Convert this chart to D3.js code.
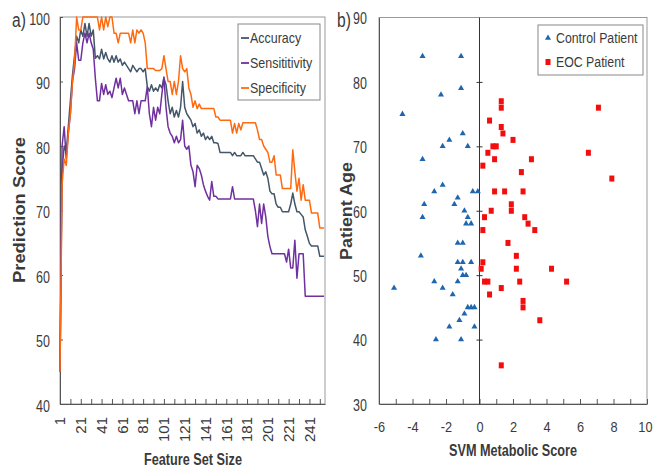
<!DOCTYPE html>
<html>
<head>
<meta charset="utf-8">
<script src="https://cdn.jsdelivr.net/npm/d3@7"></script>
<style>
body { margin: 0; background: #fff; }
text { font-family: "Liberation Sans", Arial, sans-serif; fill: #3a3a3a; }
</style>
</head>
<body>
<div id="chart"></div>
<script>
// ---- panel a) data: feature set size vs prediction score (every 2nd feature size)
var featureSizes = d3.range(1, 256, 2);
var accuracy = [
  45, 76, 80, 79, 83, 87, 91, 94, 97, 96,
  98, 97, 99, 97, 99, 97, 98, 93.6, 94, 93.5,
  95, 93.5, 94.5, 93.5, 93, 94, 93, 94, 93, 93.5,
  92.5, 93, 92.5, 92, 91.5, 92.5, 92, 91.5, 92, 92,
  91.5, 92, 89.2, 88.5, 89.5, 88.5, 89, 88.5, 89.5, 89,
  90.5, 89.5, 87, 85, 86, 84.5, 85.5, 84.5, 86, 90,
  86, 85, 84.5, 84, 83, 83.5, 82, 82.5, 81.5, 82,
  81, 81.5, 81, 81.5, 80.5, 80.5, 80.4, 79, 79, 79,
  79, 79, 79, 78.5, 79, 78.5, 78.5, 78.5, 79, 78.5,
  78.5, 78.5, 78.5, 78.5, 78, 77.5, 77.5, 76.5, 75.5, 76,
  75, 73, 72.6, 72.6, 71, 70.5, 70.5, 69.8, 69.8, 69.8,
  69.8, 71, 72.7, 71, 69.8, 69.8, 69.4, 69, 67, 66,
  64.9, 64.5, 64.5, 64.5, 64.5, 62.9, 62.9, 62.9
];
var sensitivity = [
  45, 80, 83, 78, 82, 85, 90, 92, 96, 93.3,
  93.3, 96, 97.5, 96, 97.5, 96, 95, 90.5, 87, 87,
  89.7, 88, 89.5, 88, 88.5, 87.5, 89, 90.5, 89, 90.5,
  88, 89, 88, 87, 87, 87, 85, 87, 85, 87,
  87, 87, 89.2, 85, 83, 86, 84, 86, 85, 88,
  90.7, 86, 83, 82, 81.5, 80.5, 81.5, 80.5, 81, 84,
  80, 79.5, 80, 77, 76, 73.7, 77, 76.5, 75.5, 74,
  73, 72.2, 71.6, 74.5, 72.2, 72.2, 71.8, 71.8, 71.8, 71.8,
  71.8, 71.8, 71.8, 73.7, 71.8, 71.8, 71.8, 71.8, 71.8, 71.8,
  71.8, 71.8, 71.8, 71.8, 70, 67.5, 71, 68, 71, 69,
  66, 64.4, 63.3, 63.3, 63.3, 63.3, 63.3, 63.3, 63.3, 62,
  64, 61.1, 61.1, 65.4, 59.5, 63.3, 63.3, 63.3, 56.7, 56.7,
  56.7, 56.7, 56.7, 56.7, 56.7, 56.7, 56.7, 56.7
];
var specificity = [
  45, 74, 78, 77, 82, 85, 90, 93, 100, 98,
  98, 100, 100, 100, 100, 100, 100, 100, 100, 98,
  100, 98, 100, 98.5, 100, 100, 97.5, 97.5, 96, 97.5,
  97.5, 97.5, 97.5, 97.5, 96, 98, 96, 98, 97.5, 98,
  97.5, 96, 92, 92, 92, 92, 91.7, 91.7, 91.7, 92,
  94, 92, 90, 90, 88, 90, 88, 90, 94, 92,
  91.5, 92, 89, 88, 86, 87, 85.8, 86.5, 85.8, 85.8,
  85.8, 85.8, 85.8, 85.8, 85.8, 84.5, 84.5, 84, 84, 84,
  84, 84, 84, 82, 83.5, 82, 83.5, 82.5, 83.6, 83.6,
  83.6, 83.6, 83.6, 83.6, 83.6, 82.5, 81, 81, 80, 79.5,
  79, 77.5, 77.5, 78.5, 75.5, 75.5, 75.5, 73.4, 73.4, 73.4,
  73.4, 73.4, 79.4, 76, 73, 75, 71.6, 74, 71.6, 71.6,
  71.6, 69.6, 69.6, 69.6, 69.6, 67.3, 67.3, 67.3
];
var featureTicks = [1, 21, 41, 61, 81, 101, 121, 141, 161, 181, 201, 221, 241];
var scoreTicks = [40, 50, 60, 70, 80, 90, 100];

// ---- panel b) data: SVM metabolic score vs patient age
var controlScore = [-3.4, -1.1, -2.3, -1.1, -4.6, -1.0, -1.8, -2.2, -0.7, -3.4,
  -2.2, -2.7, -0.4, -0.1, -1.3, -1.5, -3.3, -0.9, -3.4, -0.7,
  -0.8, -0.5, -1.3, -1.0, -3.5, -1.3, -1.0, -0.5, -1.1, -1.0,
  -0.8, -1.3, -2.7, -5.1, -2.2, -1.6, -0.7, -0.5, -0.3, -0.9,
  -1.2, -1.8, -0.3, -2.6, -1.1];
var controlAge = [84, 84, 78, 79, 75, 72, 71, 70, 70, 68,
  64, 63, 63, 63, 62, 61, 61, 60, 59, 59,
  58, 58, 55, 55, 53, 52, 52, 52, 51, 50,
  50, 49, 49, 48, 48, 47, 45, 45, 45, 44,
  43, 42, 42, 40, 40];
var eocScore = [1.3, 1.3, 7.1, 0.6, 1.3, 1.4, 2.0, 0.8, 1.0, 0.5,
  6.5, 0.9, 3.1, 0.2, 2.5, 7.9, 0.9, 1.5, 2.6, 1.9,
  1.9, 0.7, 0.3, 2.7, 2.9, 0.2, 3.3, 1.7, 2.2, 0.2,
  0.1, 2.2, 4.3, 0.3, 0.5, 2.4, 5.2, 1.3, 0.6, 2.6,
  2.6, 3.6, 1.3];
var eocAge = [77, 76, 76, 74, 73, 72, 71, 70, 70, 69,
  69, 68, 68, 67, 66, 65, 63, 63, 63, 61,
  60, 60, 59, 59, 58, 57, 57, 55, 53, 52,
  51, 51, 51, 49, 49, 49, 49, 48, 47, 46,
  45, 43, 36];
var svmTicks = [-6, -5, -4, -3, -2, -1, 0, 1, 2, 3, 4, 5, 6, 7, 8, 9, 10];
var ageTicks = [30, 40, 50, 60, 70, 80, 90];

var svg = d3.select("#chart").append("svg")
  .attr("width", 654)
  .attr("height", 470);

// the picture is squashed sideways, so upright text is narrowed
function squeeze(sel, k) {
  sel.each(function() {
    var w = this.getComputedTextLength();
    d3.select(this).attr("textLength", w * k).attr("lengthAdjust", "spacingAndGlyphs");
  });
}

function styleAxis(g, size) {
  g.select(".domain").attr("stroke", "#555");
  g.selectAll(".tick line").attr("stroke", "#555");
  g.selectAll("text").style("font-size", (size || 16) + "px").attr("fill", "#3a3a3a");
}

// ================= panel a =================
var a = {left: 60, right: 325, top: 17, bottom: 404};
var x = d3.scaleLinear().domain([1, 256]).range([a.left, a.right]);
var y = d3.scaleLinear().domain([40, 100]).range([a.bottom, a.top]);

svg.append("rect")
  .attr("x", a.left).attr("y", a.top)
  .attr("width", a.right - a.left).attr("height", a.bottom - a.top)
  .attr("fill", "none").attr("stroke", "#999");

var ga = svg.append("g")
  .attr("transform", "translate(" + a.left + ",0)")
  .call(d3.axisLeft(y).tickValues(scoreTicks).tickSizeInner(-3).tickSizeOuter(0).tickPadding(10));
styleAxis(ga);
ga.selectAll("text").attr("dy", "0.45em");
squeeze(ga.selectAll("text"), 0.78);

var gb = svg.append("g")
  .attr("transform", "translate(0," + a.bottom + ")")
  .call(d3.axisBottom(x).tickValues(d3.range(1, 257, 10)).tickSizeInner(-5).tickSizeOuter(0).tickFormat(""));
styleAxis(gb);

svg.append("g").selectAll("text")
  .data(featureTicks)
  .enter().append("text")
  .attr("transform", function(d) { return "translate(" + x(d) + ",417) rotate(-90)"; })
  .attr("text-anchor", "end")
  .attr("dy", "0.35em")
  .style("font-size", "15px")
  .text(function(d) { return d; });

var series = [
  {name: "Accuracy", values: accuracy, color: "#44566a"},
  {name: "Sensitivity", values: sensitivity, color: "#7030a0"},
  {name: "Specificity", values: specificity, color: "#ff6a10"}
];

var line = d3.line()
  .x(function(d, i) { return x(featureSizes[i]); })
  .y(function(d) { return y(d); });

svg.selectAll(".series")
  .data(series)
  .enter().append("path")
  .attr("class", "series")
  .attr("d", function(d) { return line(d.values); })
  .attr("fill", "none")
  .attr("stroke", function(d) { return d.color; })
  .attr("stroke-width", 1.5)
  .attr("stroke-linejoin", "round");

// legend a
var la = svg.append("g");
la.append("rect").attr("x", 238).attr("y", 24).attr("width", 82).attr("height", 76)
  .attr("fill", "#fff").attr("stroke", "#888");
var laItems = la.selectAll(".item").data(series).enter().append("g")
  .attr("transform", function(d, i) { return "translate(0," + (38 + i * 25) + ")"; });
laItems.append("line").attr("x1", 241).attr("x2", 249).attr("y1", 0).attr("y2", 0)
  .attr("stroke", function(d) { return d.color; }).attr("stroke-width", 1.8);
laItems.append("text").attr("x", 250).attr("dy", "0.36em")
  .style("font-size", "15px").attr("fill", "#333")
  .text(function(d) { return d.name === "Sensitivity" ? "Sensititivity" : d.name; });
squeeze(laItems.selectAll("text"), 0.83);

// titles a
var ta = svg.append("text").attr("x", 12).attr("y", 27).style("font-size", "20px").attr("fill", "#222").text("a)");
squeeze(ta, 0.78);
svg.append("text").attr("x", 193).attr("y", 465).attr("text-anchor", "middle")
  .style("font-size", "16px").style("font-weight", "bold").attr("fill", "#222")
  .attr("textLength", 98).attr("lengthAdjust", "spacingAndGlyphs")
  .text("Feature Set Size");
svg.append("text").attr("transform", "translate(25,210) rotate(-90)").attr("text-anchor", "middle")
  .style("font-size", "16px").style("font-weight", "bold").attr("fill", "#222")
  .attr("textLength", 146).attr("lengthAdjust", "spacingAndGlyphs")
  .text("Prediction Score");

// ================= panel b =================
var b = {left: 379, right: 647, top: 17.5, bottom: 404};
var xs = d3.scaleLinear().domain([-6, 10]).range([b.left, b.right]);
var ys = d3.scaleLinear().domain([30, 90]).range([b.bottom, b.top]);

svg.append("rect")
  .attr("x", b.left).attr("y", b.top)
  .attr("width", b.right - b.left).attr("height", b.bottom - b.top)
  .attr("fill", "none").attr("stroke", "#999");

var gyb = svg.append("g")
  .attr("transform", "translate(" + b.left + ",0)")
  .call(d3.axisLeft(ys).tickValues(ageTicks).tickSize(0).tickPadding(12));
styleAxis(gyb);
gyb.selectAll("text").attr("dy", "0.4em");
squeeze(gyb.selectAll("text"), 0.78);

var gxb = svg.append("g")
  .attr("transform", "translate(0," + b.bottom + ")")
  .call(d3.axisBottom(xs).tickValues(svmTicks).tickSizeInner(-5).tickSizeOuter(0).tickPadding(17)
    .tickFormat(function(d) { return d % 2 === 0 ? d : ""; }));
styleAxis(gxb, 15);
squeeze(gxb.selectAll("text"), 0.85);
// keep the last label inside the window
gxb.selectAll(".tick text").filter(function(d) { return d === 10; })
  .attr("text-anchor", "end").attr("x", 652 - xs(10));

// zero line with crossing ticks
svg.append("line")
  .attr("x1", xs(0)).attr("x2", xs(0)).attr("y1", b.top).attr("y2", b.bottom)
  .attr("stroke", "#333");
var gz = svg.append("g")
  .attr("transform", "translate(" + (xs(0) + 3) + ",0)")
  .call(d3.axisLeft(ys).tickValues(ageTicks.slice(1, -1)).tickSize(6).tickFormat(""));
gz.select(".domain").remove();
gz.selectAll(".tick line").attr("stroke", "#333");

var controls = controlScore.map(function(s, i) { return {score: s, age: controlAge[i]}; });
var eocs = eocScore.map(function(s, i) { return {score: s, age: eocAge[i]}; });

svg.selectAll(".ctrl")
  .data(controls)
  .enter().append("path")
  .attr("class", "ctrl")
  .attr("d", d3.symbol().type(d3.symbolTriangle).size(16))
  .attr("transform", function(d) { return "translate(" + xs(d.score) + "," + ys(d.age) + ")"; })
  .attr("fill", "#1f66b0");

svg.selectAll(".eoc")
  .data(eocs)
  .enter().append("rect")
  .attr("class", "eoc")
  .attr("x", function(d) { return xs(d.score) - 2.5; })
  .attr("y", function(d) { return ys(d.age) - 3; })
  .attr("width", 5)
  .attr("height", 6)
  .attr("fill", "#f40d0d");

// legend b
var lb = svg.append("g");
lb.append("rect").attr("x", 538).attr("y", 25).attr("width", 105).attr("height", 50)
  .attr("fill", "#fff").attr("stroke", "#888");
lb.append("path").attr("d", d3.symbol().type(d3.symbolTriangle).size(16))
  .attr("transform", "translate(548,38)").attr("fill", "#1f66b0");
lb.append("rect").attr("x", 545.5).attr("y", 59).attr("width", 5).attr("height", 6).attr("fill", "#f40d0d");
var lbt = lb.selectAll(".lbt").data(["Control Patient", "EOC Patient"]).enter().append("text")
  .attr("x", 556).attr("y", function(d, i) { return 38 + i * 24; }).attr("dy", "0.36em")
  .style("font-size", "14px").attr("fill", "#333")
  .text(function(d) { return d; });
squeeze(lbt, 0.88);

// titles b
var tb = svg.append("text").attr("x", 337).attr("y", 27).style("font-size", "20px").attr("fill", "#222").text("b)");
squeeze(tb, 0.78);
svg.append("text").attr("x", 513).attr("y", 456).attr("text-anchor", "middle")
  .style("font-size", "16px").style("font-weight", "bold").attr("fill", "#222")
  .attr("textLength", 128).attr("lengthAdjust", "spacingAndGlyphs")
  .text("SVM Metabolic Score");
svg.append("text").attr("transform", "translate(352,211) rotate(-90)").attr("text-anchor", "middle")
  .style("font-size", "16px").style("font-weight", "bold").attr("fill", "#222")
  .attr("textLength", 98).attr("lengthAdjust", "spacingAndGlyphs")
  .text("Patient Age");
</script>
</body>
</html>
